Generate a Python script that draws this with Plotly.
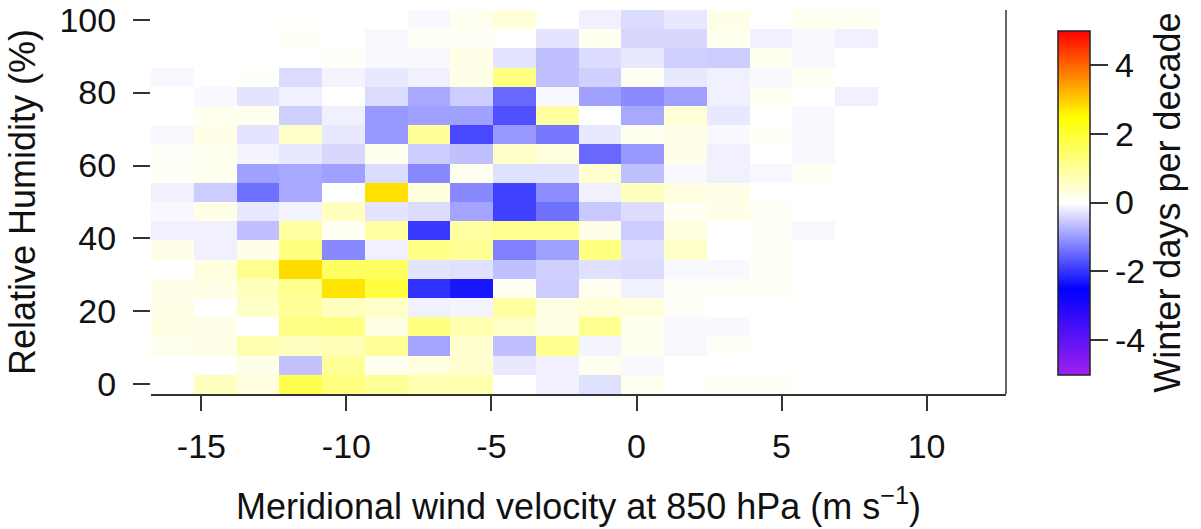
import numpy as np
import plotly.graph_objects as go

# bin centres
wind_centres = np.linspace(-16, 12, 20)      # m/s
rh_centres = np.linspace(0, 100, 20)         # %

# trend values (winter days per decade); rows from RH=0 (bottom) to RH=100 (top)
row00 = [0, 0.62, 0.3, 1.72, 1.25, 1.01, 0.77, 0.77, 0, -0.15, -0.3, 0.15, 0, 0.07, 0.07, 0, 0, 0, 0, 0]
row01 = [0, 0, 0.23, -0.6, 1.01, 0.15, 0.3, 0.46, -0.23, -0.15, 0.15, -0.07, 0, 0, 0, 0, 0, 0, 0, 0]
row02 = [0.15, 0.23, 0.77, 0.62, 0.70, 1.01, -0.89, 0.46, -0.62, 1.09, -0.11, 0.15, -0.07, 0.07, 0, 0, 0, 0, 0, 0]
row03 = [0.26, 0.23, 0, 1.17, 1.25, 0.26, 1.25, 0.77, 0.54, 0.26, 1.09, 0.15, -0.07, -0.07, 0, 0, 0, 0, 0, 0]
row04 = [0.23, 0, 0.54, 1.01, 0.62, 0.54, -0.15, -0.11, 0.93, 0.26, 0.38, 0.34, 0.07, 0, 0, 0, 0, 0, 0, 0]
row05 = [0.23, 0.23, 0.62, 1.09, 2.76, 1.87, -2.03, -2.26, 0.11, -0.5, 0.15, -0.15, 0.07, 0.07, 0.07, 0, 0, 0, 0, 0]
row06 = [0, 0.3, 1.09, 2.84, 1.56, 1.56, -0.26, -0.3, -0.62, -0.46, -0.3, -0.34, -0.07, -0.07, 0.11, 0, 0, 0, 0, 0]
row07 = [0.23, -0.15, 0.23, 1.25, -1.17, -0.15, 1.17, 1.01, -1.25, -0.93, 1.25, -0.3, 0.54, 0, 0.07, 0, 0, 0, 0, 0]
row08 = [-0.15, -0.15, -0.62, 0.93, 0.11, 0.93, -1.95, 0.93, 1.09, 1.09, 0.23, -0.5, 0.3, 0, 0.07, -0.07, 0, 0, 0, 0]
row09 = [-0.07, 0.23, -0.23, -0.11, 0.62, -0.26, -0.34, -0.89, -1.87, -1.4, -0.54, -0.34, 0.11, 0.23, 0.07, 0, 0, 0, 0, 0]
row10 = [-0.15, -0.5, -1.4, -0.85, 0, 2.8, 0.3, -1.17, -1.87, -1.13, -0.15, 0.62, 0.3, 0.23, 0, 0, 0, 0, 0, 0]
row11 = [0.11, 0.15, -0.93, -0.85, -0.93, -0.34, -1.17, 0.15, -0.3, -0.3, 0.46, -0.62, -0.07, -0.15, -0.07, 0.11, 0, 0, 0, 0]
row12 = [0.05, 0.15, -0.11, -0.23, -0.38, 0.15, -0.5, -0.62, 0.54, 0.3, -1.48, -1.01, 0.23, -0.15, 0, -0.07, 0, 0, 0, 0]
row13 = [-0.07, 0.23, -0.26, 0.54, -0.23, -1.01, 1.01, -1.79, -1.01, -1.32, -0.23, 0.15, 0.23, -0.07, 0.07, -0.07, 0, 0, 0, 0]
row14 = [0, 0.15, 0.15, -0.46, -0.15, -1.01, -0.93, -0.93, -1.72, 0.93, 0, -0.85, 0.38, -0.23, 0, -0.07, 0, 0, 0, 0]
row15 = [0, -0.07, -0.26, -0.15, 0, -0.34, -0.85, -0.5, -1.48, -0.07, -0.93, -1.14, -0.93, -0.15, 0.15, 0, -0.15, 0, 0, 0]
row16 = [-0.07, 0, 0.05, -0.34, -0.11, -0.23, -0.15, 0.23, 1.25, -0.62, -0.46, 0.11, -0.23, -0.15, -0.07, 0.11, 0, 0, 0, 0]
row17 = [0, 0, 0, 0, 0.05, -0.07, -0.07, 0.23, -0.26, -0.62, -0.34, -0.23, -0.46, -0.5, 0.15, -0.07, 0, 0, 0, 0]
row18 = [0, 0, 0, 0.1, 0, -0.07, 0.1, 0.1, 0, -0.26, 0.15, -0.38, -0.38, 0.15, -0.15, -0.07, -0.15, 0, 0, 0]
row19 = [0, 0, 0, 0.03, 0, 0, -0.07, 0.15, 0.38, 0, -0.15, -0.34, -0.23, 0.23, 0, 0.15, 0.15, 0, 0, 0]

trend = [row00, row01, row02, row03, row04, row05, row06, row07, row08, row09,
         row10, row11, row12, row13, row14, row15, row16, row17, row18, row19]

x_ticks = [-15, -10, -5, 0, 5, 10]
x_ticklabels = ["-15", "-10", "-5", "0", "5", "10"]
y_ticks = [0, 20, 40, 60, 80, 100]
y_ticklabels = ["0", "20", "40", "60", "80", "100"]
cb_ticks = [-4, -2, 0, 2, 4]
cb_ticklabels = ["-4", "-2", "0", "2", "4"]

FONT = "Liberation Sans, Arial, sans-serif"
AX = "#333333"
TXT = "#111111"

colorscale = [
    [0.0, "#A020F0"],
    [0.25, "#0000FF"],
    [0.5, "#FFFFFF"],
    [0.75, "#FFFF00"],
    [1.0, "#FF0000"],
]

dx = (wind_centres[1] - wind_centres[0]) / 2
dy = (rh_centres[1] - rh_centres[0]) / 2

fig = go.Figure()
fig.add_trace(go.Heatmap(
    x=wind_centres, y=rh_centres, z=trend,
    colorscale=colorscale, zmin=-5, zmax=5,
    colorbar=dict(
        x=1.0612, xanchor="left", xpad=0, ypad=0,
        y=0.4986, yanchor="middle",
        len=344, lenmode="pixels", thickness=32, thicknessmode="pixels",
        outlinewidth=1.5, outlinecolor="#222222",
        tickvals=cb_ticks, ticktext=cb_ticklabels, tickprefix="\u2004",
        ticks="outside", ticklen=18, tickwidth=1.5, tickcolor=AX,
        tickfont=dict(family=FONT, size=34, color=TXT),
        title=dict(text="Winter days per decade", side="right",
                   font=dict(family=FONT, size=36, color=TXT)),
    ),
))

fig.add_shape(type="line", xref="paper", yref="paper", x0=1, x1=1, y0=0, y1=1,
              line=dict(color=AX, width=1.5))

fig.update_xaxes(
    range=[wind_centres[0] - dx, wind_centres[-1] + dx],
    tickvals=x_ticks, ticktext=x_ticklabels,
    ticks="outside", ticklen=15, tickwidth=1.5, tickcolor=AX,
    ticklabelstandoff=6,
    showline=True, linecolor=AX, linewidth=1.5, showgrid=False, zeroline=False,
    tickfont=dict(family=FONT, size=34, color=TXT),
    automargin=False, ticklabeloverflow="allow",
    title=dict(text="Meridional wind velocity at 850 hPa (m s<sup>−1</sup>)",
               font=dict(family=FONT, size=36, color=TXT), standoff=30),
)
fig.update_yaxes(
    range=[rh_centres[0] - dy, rh_centres[-1] + dy],
    tickvals=y_ticks, ticktext=y_ticklabels,
    ticks="outside", ticklen=17, tickwidth=1.5, tickcolor=AX,
    ticklabelstandoff=10,
    showline=False, showgrid=False, zeroline=False,
    tickfont=dict(family=FONT, size=34, color=TXT),
    automargin=True, ticklabeloverflow="allow",
    title=dict(text="Relative Humidity (%)",
               font=dict(family=FONT, size=36, color=TXT), standoff=12),
)

fig.update_layout(
    width=1201, height=529,
    margin=dict(l=151, r=195, t=10, b=135, pad=0, autoexpand=False),
    paper_bgcolor="white", plot_bgcolor="white",
    showlegend=False,
)

# remove the default page margin so the figure sits at the window's top-left corner
fig.write_html("out.html",
               config={"displayModeBar": False},
               post_script="document.body.style.margin='0';document.body.style.padding='0';")
